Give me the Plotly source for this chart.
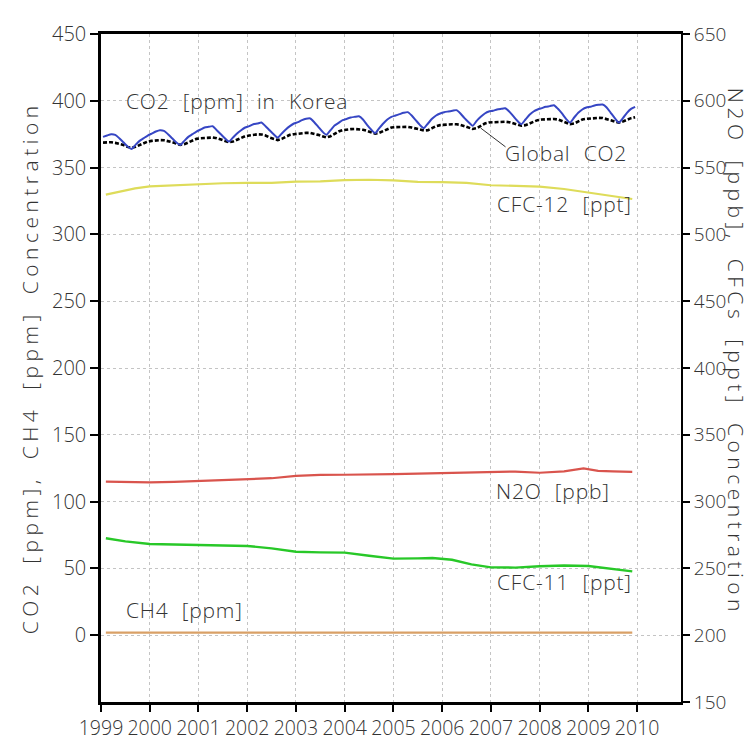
import plotly.graph_objects as go

# ---------------- data ----------------
years_tick = [1999, 2000, 2001, 2002, 2003, 2004, 2005, 2006, 2007, 2008, 2009, 2010]
year_labels = [str(y) for y in years_tick]
left_ticks = [0, 50, 100, 150, 200, 250, 300, 350, 400, 450]
right_ticks = [150, 200, 250, 300, 350, 400, 450, 500, 550, 600, 650]

# monthly CO2 in Korea (ppm), Jan 1999 .. Dec 2009
co2_korea = [
    373.0, 374.0, 375.0, 374.5, 372.0, 369.0, 366.0, 364.0, 367.0, 370.0, 372.0, 374.0,  # 1999
    375.5, 377.0, 378.0, 377.5, 375.0, 372.0, 369.0, 367.0, 370.0, 373.0, 375.0, 377.0,  # 2000
    378.5, 380.0, 380.5, 381.0, 378.0, 375.0, 372.0, 369.5, 372.5, 375.5, 378.0, 380.0,  # 2001
    381.0, 382.5, 383.0, 383.7, 381.0, 378.0, 375.0, 372.5, 375.5, 378.5, 381.0, 383.0,  # 2002
    384.0, 385.5, 386.5, 386.8, 384.0, 380.5, 377.0, 374.6, 378.0, 381.5, 383.5, 385.5,  # 2003
    386.5, 387.5, 388.0, 388.4, 386.0, 382.0, 378.5, 375.8, 379.5, 383.0, 386.0, 388.0,  # 2004
    389.0, 390.0, 391.0, 391.5, 389.0, 385.5, 382.0, 379.6, 383.0, 386.5, 389.0, 390.5,  # 2005
    391.5, 392.0, 392.5, 393.0, 390.5, 387.0, 384.0, 381.3, 385.0, 388.0, 390.5, 392.0,  # 2006
    392.5, 393.5, 394.0, 394.4, 392.0, 388.5, 385.0, 382.5, 386.0, 389.5, 392.0, 393.5,  # 2007
    394.5, 395.5, 396.0, 396.7, 394.0, 390.5, 386.5, 383.7, 387.5, 391.0, 393.5, 395.0,  # 2008
    395.5, 396.5, 397.0, 397.2, 395.0, 391.0, 387.0, 383.7, 387.0, 391.0, 394.0, 395.5,  # 2009
]

# monthly global CO2 (ppm), Jan 1999 .. Dec 2009
co2_global = [
    368.7, 369.0, 369.0, 368.5, 368.0, 367.0, 365.5, 364.7, 365.5, 367.0, 368.5, 369.5,  # 1999
    370.0, 370.5, 370.6, 370.5, 370.0, 369.0, 368.0, 367.0, 367.5, 369.0, 370.5, 371.5,  # 2000
    372.0, 372.3, 372.5, 372.5, 372.0, 371.0, 370.0, 369.0, 369.5, 371.0, 372.5, 373.5,  # 2001
    374.0, 374.5, 374.9, 374.8, 374.0, 372.5, 371.5, 370.6, 371.5, 373.0, 374.5, 375.0,  # 2002
    375.5, 375.8, 376.0, 376.0, 375.5, 374.5, 373.5, 372.5, 373.5, 375.5, 377.0, 378.0,  # 2003
    378.5, 378.8, 378.9, 378.8, 378.3, 377.5, 376.5, 375.4, 376.0, 377.5, 379.0, 380.0,  # 2004
    380.3, 380.5, 380.6, 380.5, 380.0, 379.5, 378.5, 377.7, 378.0, 379.5, 381.0, 381.8,  # 2005
    382.2, 382.4, 382.5, 382.4, 382.0, 381.0, 380.0, 378.9, 379.5, 381.0, 383.0, 383.8,  # 2006
    384.0, 384.3, 384.4, 384.3, 384.0, 383.0, 382.0, 381.3, 381.8, 383.0, 384.5, 385.5,  # 2007
    386.0, 386.3, 386.5, 386.4, 386.0, 385.0, 383.5, 382.5, 383.0, 384.5, 386.0, 386.5,  # 2008
    386.8, 387.0, 387.2, 387.1, 386.5, 385.5, 384.5, 383.7, 384.5, 386.0, 387.0, 387.7,  # 2009
]
month_time = [1999 + (i + 0.5) / 12 for i in range(len(co2_korea))]

# CFC-12 (ppt, right axis)
cfc12_time = [1999.1, 1999.4, 1999.7, 2000.0, 2000.5, 2001.0, 2001.5, 2002.0, 2002.5, 2003.0,
              2003.5, 2004.0, 2004.5, 2005.0, 2005.5, 2006.0, 2006.5, 2007.0, 2007.5, 2008.0,
              2008.5, 2009.0, 2009.5, 2009.9]
cfc12 = [529.8, 532.0, 534.5, 536.0, 536.8, 537.5, 538.3, 538.6, 538.6, 539.5,
         539.7, 540.6, 540.9, 540.4, 539.3, 539.2, 538.5, 536.8, 536.3, 535.8,
         534.0, 531.5, 529.0, 526.5]

# N2O (ppb, right axis)
n2o_time = [1999.1, 1999.5, 2000.0, 2000.5, 2001.0, 2001.5, 2002.0, 2002.5, 2003.0, 2003.5,
            2004.0, 2004.5, 2005.0, 2005.5, 2006.0, 2006.5, 2007.0, 2007.5, 2008.0, 2008.5,
            2008.9, 2009.2, 2009.5, 2009.9]
n2o = [315.0, 314.6, 314.4, 314.8, 315.5, 316.0, 316.6, 317.5, 319.3, 320.0,
       320.1, 320.2, 320.6, 321.0, 321.5, 322.0, 322.4, 322.5, 321.6, 322.6,
       324.8, 323.0, 322.6, 322.3]

# CFC-11 (ppt, right axis)
cfc11_time = [1999.1, 1999.5, 2000.0, 2000.5, 2001.0, 2001.5, 2002.0, 2002.5, 2003.0, 2003.5,
              2004.0, 2004.5, 2005.0, 2005.5, 2005.8, 2006.2, 2006.6, 2007.0, 2007.5, 2008.0,
              2008.5, 2009.0, 2009.4, 2009.9]
cfc11 = [272.6, 270.2, 268.3, 268.0, 267.8, 267.5, 266.8, 265.0, 262.5, 262.0,
         261.8, 259.5, 257.3, 257.5, 257.8, 256.5, 253.0, 250.8, 250.6, 251.6,
         252.2, 251.8, 249.8, 247.8]

# CH4 (ppm, left axis)
ch4_time = [1999.1, 2000.0, 2001.0, 2002.0, 2003.0, 2004.0, 2005.0, 2006.0, 2007.0, 2008.0, 2009.0, 2009.9]
ch4 = [1.86, 1.87, 1.87, 1.88, 1.88, 1.89, 1.89, 1.90, 1.90, 1.91, 1.91, 1.92]

FONT = "Open Sans, DejaVu Sans, sans-serif"
TXT = "#333333"


def spaced(text, letter, word):
    return f'<span style="letter-spacing:{letter}px;word-spacing:{word}px">{text}</span>'


fig = go.Figure()
fig.add_trace(go.Scatter(x=month_time, y=co2_global, mode="lines", name="Global CO2",
                         line=dict(color="black", width=2.6, dash="4px,2px")))
fig.add_trace(go.Scatter(x=month_time, y=co2_korea, mode="lines", name="CO2 in Korea",
                         line=dict(color="#3646c4", width=2, shape="spline", smoothing=0.6)))
fig.add_trace(go.Scatter(x=ch4_time, y=ch4, mode="lines", name="CH4",
                         line=dict(color="#d9a066", width=2.2)))
fig.add_trace(go.Scatter(x=cfc12_time, y=cfc12, mode="lines", name="CFC-12", yaxis="y2",
                         line=dict(color="#dedc5a", width=2.2)))
fig.add_trace(go.Scatter(x=n2o_time, y=n2o, mode="lines", name="N2O", yaxis="y2",
                         line=dict(color="#d9544d", width=2.2)))
fig.add_trace(go.Scatter(x=cfc11_time, y=cfc11, mode="lines", name="CFC-11", yaxis="y2",
                         line=dict(color="#28c828", width=2.4)))

ann_font = dict(family=FONT, size=21, color=TXT, weight=300)
labels = [
    ("CO2 [ppm] in Korea", 1999.47, 400),
    ("Global CO2", 2007.25, 361),
    ("CFC-12 [ppt]", 2007.08, 323),
    ("N2O [ppb]", 2007.06, 108),
    ("CFC-11 [ppt]", 2007.08, 39.5),
    ("CH4 [ppm]", 1999.48, 19),
]
for text, xx, yy in labels:
    fig.add_annotation(x=xx, y=yy, xref="x", yref="y", text=spaced(text, 0.8, 7), showarrow=False,
                       xanchor="left", yanchor="middle", font=ann_font)

# leader line for Global CO2
fig.add_shape(type="line", xref="x", yref="y", x0=2006.79, y0=379.6, x1=2007.3, y1=365.5,
              line=dict(color="#333333", width=1))

# axis titles
title_font = dict(family=FONT, size=21, color=TXT, weight=300)
fig.add_annotation(x=-0.122, y=0.5, xref="paper", yref="paper", xanchor="center", yanchor="middle",
                   text=spaced("CO2 [ppm], CH4 [ppm] Concentration", 4.5, 6), textangle=-90,
                   showarrow=False, font=title_font)
fig.add_annotation(x=1.094, y=0.525, xref="paper", yref="paper", xanchor="center", yanchor="middle",
                   text=spaced("N2O [ppb], CFCs [ppt] Concentration", 4.5, 6), textangle=90,
                   showarrow=False, font=title_font)

grid = dict(showgrid=True, gridcolor="#c4c4c4", griddash="dot", gridwidth=1, zeroline=False)
fig.update_layout(
    width=756, height=745,
    margin=dict(l=93, r=83, t=15, b=28),
    paper_bgcolor="white", plot_bgcolor="white",
    showlegend=False,
    xaxis=dict(range=[1999, 2010.9], tickvals=years_tick, ticktext=year_labels,
               showline=True, linecolor="black", linewidth=2.5, mirror=True,
               ticks="outside", ticklen=7, tickcolor="black", tickwidth=1.5,
               tickfont=dict(family=FONT, size=19.5, color=TXT, weight=300), **grid),
    yaxis=dict(range=[-50, 450], tickvals=left_ticks,
               showline=True, linecolor="black", linewidth=2.5,
               ticks="outside", ticklen=8, tickcolor="black", tickwidth=1.5,
               tickfont=dict(family=FONT, size=20, color=TXT, weight=300), **grid),
    yaxis2=dict(range=[150, 650], tickvals=right_ticks, overlaying="y", side="right",
                showline=True, linecolor="black", linewidth=2,
                ticks="outside", ticklen=7, tickcolor="black", tickwidth=1.5,
                showgrid=False, zeroline=False,
                tickfont=dict(family=FONT, size=19, color=TXT, weight=300)),
)

fig.write_html("out.html")
